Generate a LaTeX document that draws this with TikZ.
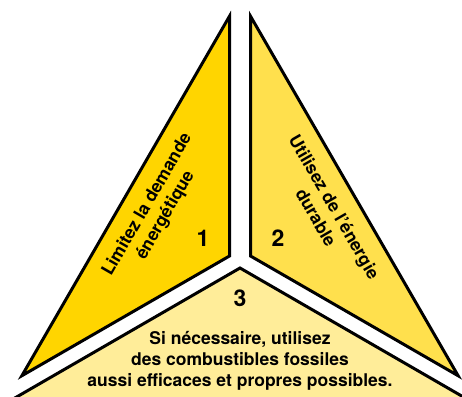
\documentclass[tikz,border=0pt]{standalone}
\usepackage{fontspec}
\setmainfont{TeX Gyre Heros}
\usepackage{xcolor}
\usepackage{tikz}
\definecolor{jauneA}{RGB}{255,213,0}
\definecolor{jauneB}{RGB}{255,224,77}
\definecolor{jauneC}{RGB}{255,237,153}

\begin{document}
\begin{tikzpicture}[x=1pt,y=1pt,
    piece/.style={draw=black, line width=3pt, line join=miter},
    txt/.style={font=\fontsize{17.5}{21}\selectfont\bfseries, align=center, inner sep=0pt},
    num/.style={font=\fontsize{23}{23}\selectfont\bfseries, inner sep=0pt}]
    \useasboundingbox (0,0) rectangle (462,-396);
    \clip (0,0) rectangle (462,-396);
    % three parts of the triangle
    \filldraw[piece, fill=jauneA] (229.5,-16.2) -- (229.5,-256) -- (21.9,-375.7) -- cycle;
    \filldraw[piece, fill=jauneB] (250.5,-16.2) -- (250.5,-256) -- (458.1,-375.7) -- cycle;
    \filldraw[piece, fill=jauneC] (240,-268) -- (6.2,-403) -- (473.8,-403) -- cycle;
    % texts
    \node[txt, rotate=60] (demande) at (156.5,-210) {Limitez la demande\\énergétique};
    \node[txt, rotate=-60] (durable) at (325.5,-212) {Utilisez de l'énergie\\durable};
    \node[txt] (fossiles) at (240,-361) {Si nécessaire, utilisez\\des combustibles fossiles\\aussi efficaces et propres possibles.};
    \node[num] (un) at (203,-238) {1};
    \node[num] (deux) at (278,-238) {2};
    \node[num] (trois) at (240,-298) {3};
\end{tikzpicture}
\end{document}
